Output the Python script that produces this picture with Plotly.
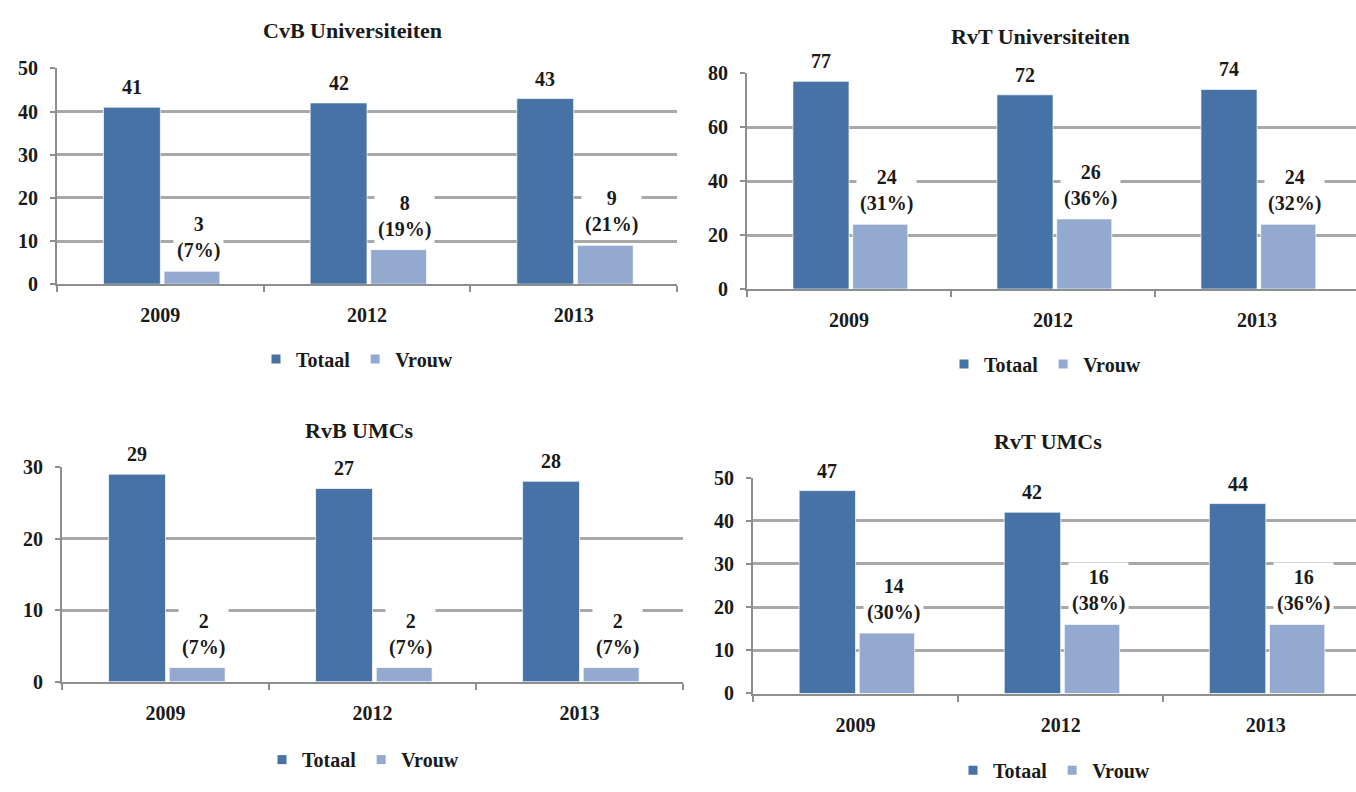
import plotly.graph_objects as go

# ---- data -------------------------------------------------------------
years = ["2009", "2012", "2013"]
panel_titles = ["CvB Universiteiten", "RvT Universiteiten", "RvB UMCs", "RvT UMCs"]
series_names = ["Totaal", "Vrouw"]

cvb_uni_totaal = [41, 42, 43]
cvb_uni_vrouw = [3, 8, 9]
rvt_uni_totaal = [77, 72, 74]
rvt_uni_vrouw = [24, 26, 24]
rvb_umc_totaal = [29, 27, 28]
rvb_umc_vrouw = [2, 2, 2]
rvt_umc_totaal = [47, 42, 44]
rvt_umc_vrouw = [14, 16, 16]

y_max = [50, 80, 30, 50]
y_step = [10, 20, 10, 10]

totaal_sets = [cvb_uni_totaal, rvt_uni_totaal, rvb_umc_totaal, rvt_umc_totaal]
vrouw_sets = [cvb_uni_vrouw, rvt_uni_vrouw, rvb_umc_vrouw, rvt_umc_vrouw]

# ---- styling ----------------------------------------------------------
W, H = 1356, 792
C_TOTAAL = "#4672a6"
C_VROUW = "#93a9cf"
GRID = "#a8a8a8"
AXIS = "#8e8e8e"
TXT = "#1a1a1a"
FAM = "Liberation Serif, Times New Roman, serif"
FS = 20


def fnt(size=FS):
    return dict(family=FAM, size=size, color=TXT, weight="bold")


def px_x(p):
    return p / W


def px_y(p):
    return 1 - p / H


# per panel: plot area in pixels (left, right, bottom, top), x-range end,
# title centre and legend centre
panels = [
    dict(l=57, r=677, b=281, t=59, xr=2.5, title=(352, 20), leg=(357, 358)),
    dict(l=747, r=1356, b=286, t=64, xr=2.485, title=(1040, 26), leg=(1045, 363)),
    dict(l=62, r=683, b=690, t=469, xr=2.5, title=(359, 432), leg=(363, 770)),
    dict(l=753, r=1356, b=702, t=480, xr=2.44, title=(1048, 443), leg=(1054, 781)),
]

T_OFF, T_W = -0.275, 0.275
V_OFF, V_W = 0.018, 0.27

fig = go.Figure()
annotations = []
layout = dict(
    width=W, height=H,
    margin=dict(l=0, r=0, t=0, b=0),
    paper_bgcolor="white", plot_bgcolor="white",
    font=fnt(),
    showlegend=True,
)

for i, p in enumerate(panels):
    n = i + 1
    xa = "x" if n == 1 else f"x{n}"
    ya = "y" if n == 1 else f"y{n}"
    leg = "legend" if n == 1 else f"legend{n}"
    tot = totaal_sets[i]
    vr = vrouw_sets[i]

    fig.add_trace(go.Bar(
        x=years, y=tot, offset=T_OFF, width=T_W, name="Totaal",
        marker=dict(color=C_TOTAAL, line=dict(color="rgba(255,255,255,0.7)", width=1)),
        xaxis=xa, yaxis=ya, showlegend=False, hoverinfo="y",
    ))
    fig.add_trace(go.Bar(
        x=years, y=vr, offset=V_OFF, width=V_W, name="Vrouw",
        marker=dict(color=C_VROUW, line=dict(color="rgba(255,255,255,0.7)", width=1)),
        xaxis=xa, yaxis=ya, showlegend=False, hoverinfo="y",
    ))
    # legend entries with small square swatches
    for nm, col in zip(series_names, [C_TOTAAL, C_VROUW]):
        fig.add_trace(go.Scatter(
            x=[None], y=[None], mode="markers", name=nm,
            marker=dict(symbol="square", size=9, color=col),
            xaxis=xa, yaxis=ya, legend=leg, showlegend=True,
        ))

    xkey = "xaxis" if n == 1 else f"xaxis{n}"
    ykey = "yaxis" if n == 1 else f"yaxis{n}"
    layout[xkey] = dict(
        domain=[px_x(p["l"]), px_x(p["r"])],
        anchor=ya, type="category", categoryorder="array", categoryarray=years,
        range=[-0.5, p["xr"]], tickson="boundaries", ticks="outside",
        ticklen=6, tickwidth=2, tickcolor=AXIS,
        showline=True, linecolor=AXIS, linewidth=2,
        showgrid=False, zeroline=False, ticklabelstandoff=12,
        tickfont=fnt(), fixedrange=True,
    )
    layout[ykey] = dict(
        domain=[px_y(p["b"]), px_y(p["t"])],
        anchor=xa, range=[0, y_max[i]], dtick=y_step[i], tick0=0,
        ticks="outside", ticklen=5, tickwidth=2, tickcolor=AXIS,
        showline=True, linecolor=AXIS, linewidth=2,
        showgrid=True, gridcolor=GRID, gridwidth=2.5, zeroline=False,
        ticklabelstandoff=8,
        tickfont=fnt(), fixedrange=True,
    )
    layout[leg] = dict(
        orientation="h", x=px_x(p["leg"][0]), y=px_y(p["leg"][1]),
        xanchor="center", yanchor="middle", bgcolor="rgba(0,0,0,0)",
        font=fnt(), itemwidth=30, tracegroupgap=0,
    )

    # panel title
    annotations.append(dict(
        text=panel_titles[i], xref="paper", yref="paper",
        x=px_x(p["title"][0]), y=px_y(p["title"][1]),
        xanchor="center", yanchor="middle", showarrow=False,
        font=fnt(22),
    ))

    # value labels on white boxes
    for j in range(len(years)):
        annotations.append(dict(
            text=str(tot[j]), xref=xa, yref=ya,
            x=j + T_OFF + T_W / 2, y=tot[j], xanchor="center", yanchor="bottom",
            yshift=5, showarrow=False, bgcolor="white", borderpad=3,
            font=fnt(),
        ))
        pct = round(100 * vr[j] / tot[j])
        annotations.append(dict(
            text=f"{vr[j]}<br>({pct}%)", xref=xa, yref=ya,
            x=j + V_OFF + V_W / 2 + 0.03, y=vr[j], xanchor="center", yanchor="bottom",
            yshift=5, showarrow=False, bgcolor="white", borderpad=3,
            font=fnt(),
        ))

layout["annotations"] = annotations
layout["barmode"] = "overlay"
fig.update_layout(**layout)

fig.write_html("out.html", config=dict(displayModeBar=False))
